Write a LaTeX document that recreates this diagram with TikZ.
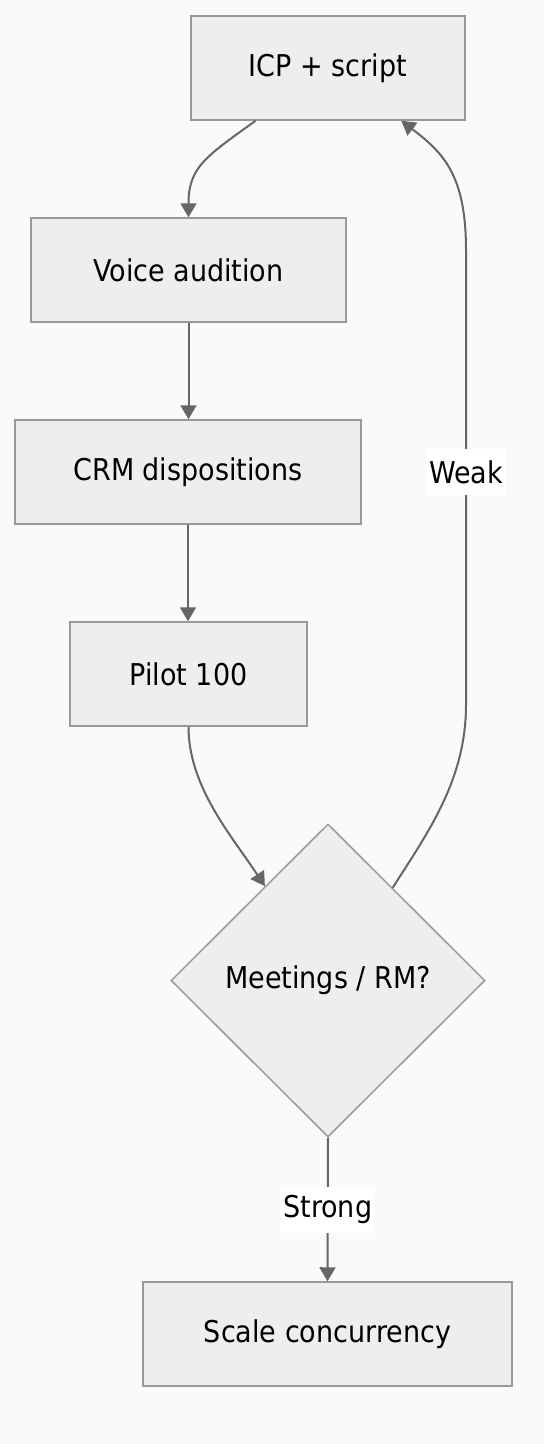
\documentclass[tikz,border=0pt]{standalone}
\usepackage{fontspec}
\setmainfont{DejaVu Sans Condensed}
\usetikzlibrary{shapes.geometric, arrows.meta, positioning, calc}
\definecolor{flowBg}{RGB}{248, 250, 252}
\definecolor{flowFill}{RGB}{238, 238, 238}
\definecolor{flowBorder}{RGB}{153, 153, 153}
\definecolor{flowEdge}{RGB}{102, 102, 102}

\begin{document}
\begin{tikzpicture}[x=1pt, y=-1pt,
        stepbox/.style={draw=flowBorder, fill=flowFill, line width=1.5pt, minimum height=104pt, font=\fontsize{30}{36}\selectfont},
        decision/.style={diamond, draw=flowBorder, fill=flowFill, line width=1.5pt, minimum width=314pt, minimum height=313pt, inner sep=0pt, font=\fontsize{30}{36}\selectfont},
        flow/.style={draw=flowEdge, line width=2pt, -{Triangle[length=14pt, width=16pt]}},
        edgelabel/.style={fill=white, inner xsep=3pt, inner ysep=0pt, minimum height=46pt, font=\fontsize{30}{36}\selectfont}]
        \useasboundingbox (0,0) rectangle (544,1444);
        \fill[flowBg] (0,0) rectangle (544,1444);

        % steps
        \node[stepbox, minimum width=274pt] (icp) at (328,68) {ICP + script};
        \node[stepbox, minimum width=315pt] (voice) at (188.5,270) {Voice audition};
        \node[stepbox, minimum width=346pt] (crm) at (188,472) {CRM dispositions};
        \node[stepbox, minimum width=237pt] (pilot) at (188.5,674) {Pilot 100};
        \node[decision] (meet) at (328,980.5) {Meetings / RM?};
        \node[stepbox, minimum width=369pt] (scale) at (327.5,1334) {Scale concurrency};

        % loop back
        \coordinate (weakbot) at (466,705);
        \coordinate (weaktop) at (466,250);

        \draw[flow] ($(icp.south west)!0.237!(icp.south east)$) .. controls +(-50,36) and +(0,-50) .. (voice.north);
        \draw[flow] (voice.south) -- (voice.south |- crm.north);
        \draw[flow] (crm.south) -- (crm.south |- pilot.north);
        \draw[flow] (pilot.south) .. controls +(0,60) and +(-33,-50) .. ($(meet.north)!0.4!(meet.west)$);
        \draw[flow] ($(meet.north)!0.41!(meet.east)$) .. controls +(35,-55) and +(0,75) .. (weakbot)
            -- node[edgelabel, pos=0.512] {Weak} (weaktop)
            .. controls +(0,-75) and +(42,32) .. ($(icp.south west)!0.766!(icp.south east)$);
        \draw[flow] (meet.south) -- node[edgelabel] {Strong} (scale.north);
    \end{tikzpicture}
\end{document}
